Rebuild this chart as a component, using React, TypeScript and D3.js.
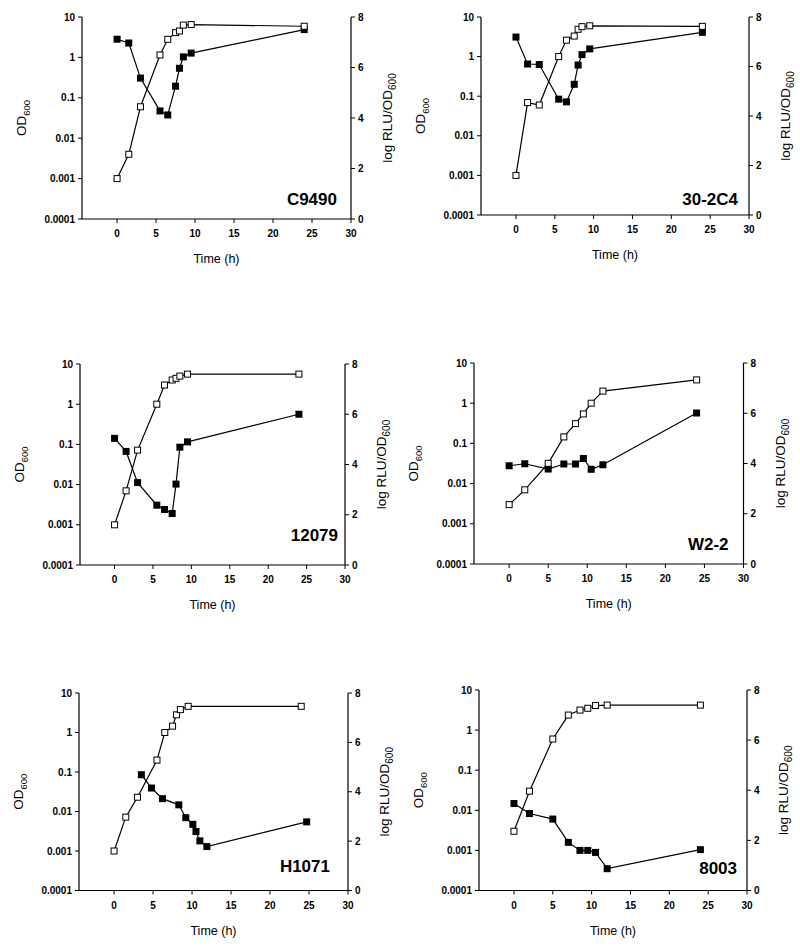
import React from "react";
import * as d3 from "d3";

// Axis ticks
const xTicks = [0, 5, 10, 15, 20, 25, 30];
const odTicks = [10, 1, 0.1, 0.01, 0.001, 0.0001];
const odTickLabels = ["10", "1", "0.1", "0.01", "0.001", "0.0001"];
const rluTicks = [0, 2, 4, 6, 8];

// C9490
const c9490Time = [0, 1.5, 3, 5.5, 6.5, 7.5, 8, 8.5, 9.5, 24];
const c9490OD = [0.001, 0.004, 0.06, 1.15, 2.8, 4.1, 4.5, 6.3, 6.5, 5.9];
const c9490RLU = [7.12, 6.97, 5.58, 4.28, 4.12, 5.26, 5.97, 6.42, 6.57, 7.5];

// 30-2C4
const s302c4Time = [0, 1.5, 3, 5.5, 6.5, 7.5, 8, 8.5, 9.5, 24];
const s302c4OD = [0.001, 0.069, 0.06, 1.0, 2.6, 3.3, 4.9, 5.7, 6.0, 5.8];
const s302c4RLU = [7.19, 6.1, 6.08, 4.68, 4.57, 5.28, 6.06, 6.48, 6.71, 7.38];

// 12079
const s12079Time = [0, 1.5, 3, 5.5, 6.5, 7.5, 8, 8.5, 9.5, 24];
const s12079OD = [0.001, 0.007, 0.072, 1.0, 3.0, 4.0, 4.4, 5.0, 5.6, 5.6];
const s12079RLU = [5.04, 4.52, 3.28, 2.38, 2.21, 2.05, 3.22, 4.69, 4.9, 6.0];

// W2-2
const w22Time = [0, 2, 5, 7, 8.5, 9.5, 10.5, 12, 24];
const w22OD = [0.003, 0.007, 0.032, 0.145, 0.31, 0.54, 1.0, 2.0, 3.8];
const w22RLU = [3.91, 3.99, 3.78, 3.98, 3.98, 4.2, 3.77, 3.95, 6.01];

// H1071
const h1071Time = [0, 1.5, 3, 5.5, 6.5, 7.5, 8, 8.5, 9.5, 24];
const h1071OD = [0.001, 0.0072, 0.023, 0.2, 1.0, 1.45, 2.8, 3.8, 4.6, 4.6];
const h1071RLUTime = [3.5, 4.8, 6.2, 8.3, 9.2, 10.1, 10.5, 11, 11.9, 24.7];
const h1071RLU = [4.69, 4.15, 3.72, 3.47, 2.95, 2.68, 2.39, 2.01, 1.78, 2.78];

// 8003
const s8003Time = [0, 2, 5, 7, 8.5, 9.5, 10.5, 12, 24];
const s8003OD = [0.003, 0.03, 0.6, 2.37, 3.16, 3.5, 4.1, 4.2, 4.2];
const s8003RLU = [3.47, 3.07, 2.85, 1.92, 1.6, 1.6, 1.52, 0.87, 1.63];

const strains = ["C9490", "30-2C4", "12079", "W2-2", "H1071", "8003"];

type Panel = {
  name: string;
  odT: number[];
  od: number[];
  rluT: number[];
  rlu: number[];
  left: number;
  right: number;
  top: number;
  bottom: number;
  lx: number;
  ly: number;
};

const layouts = [
  { left: 82, right: 351, top: 17, bottom: 219, lx: 14, ly: 14 },
  { left: 481, right: 749, top: 17, bottom: 215, lx: 11, ly: 10 },
  { left: 80, right: 345, top: 364, bottom: 565, lx: 7, ly: 24 },
  { left: 474, right: 743.5, top: 363, bottom: 564, lx: 15, ly: 14 },
  { left: 79, right: 348, top: 693, bottom: 890.5, lx: 18, ly: 19 },
  { left: 479, right: 747, top: 690, bottom: 890.5, lx: 10, ly: 17 },
];

const seriesData = [
  [c9490Time, c9490OD, c9490Time, c9490RLU],
  [s302c4Time, s302c4OD, s302c4Time, s302c4RLU],
  [s12079Time, s12079OD, s12079Time, s12079RLU],
  [w22Time, w22OD, w22Time, w22RLU],
  [h1071Time, h1071OD, h1071RLUTime, h1071RLU],
  [s8003Time, s8003OD, s8003Time, s8003RLU],
];

const panels: Panel[] = strains.map((name, i) => ({
  name,
  odT: seriesData[i][0],
  od: seriesData[i][1],
  rluT: seriesData[i][2],
  rlu: seriesData[i][3],
  ...layouts[i],
}));

const FONT = "'Liberation Sans', Arial, Helvetica, sans-serif";
const MF = 7;
const MO = 6;

function ChartPanel({ p }: { p: Panel }) {
  const x = d3.scaleLinear().domain([-4.5, 30]).range([p.left, p.right]);
  const yOD = d3.scaleLog().domain([0.0001, 10]).range([p.bottom, p.top]);
  const yR = d3.scaleLinear().domain([0, 8]).range([p.bottom, p.top]);

  const odPts: [number, number][] = p.odT.map((t, i) => [x(t), yOD(p.od[i])]);
  const rPts: [number, number][] = p.rluT.map((t, i) => [x(t), yR(p.rlu[i])]);
  const line = d3.line();

  const midY = (p.top + p.bottom) / 2;
  const midX = (p.left + p.right) / 2;

  return (
    <g fontFamily={FONT}>
      {/* axes */}
      <line x1={p.left} x2={p.left} y1={p.top} y2={p.bottom} stroke="#000" strokeWidth={1.2} />
      <line x1={p.right} x2={p.right} y1={p.top} y2={p.bottom} stroke="#000" strokeWidth={1.2} />
      <line x1={p.left} x2={p.right} y1={p.bottom} y2={p.bottom} stroke="#000" strokeWidth={1.2} />
      {odTicks.map((v, i) => (
        <g key={"l" + i}>
          <line x1={p.left - 4} x2={p.left} y1={yOD(v)} y2={yOD(v)} stroke="#000" strokeWidth={1} />
          <text x={p.left - 7} y={yOD(v)} dy="0.35em" textAnchor="end" fontSize={10} fontWeight="bold">
            {odTickLabels[i]}
          </text>
        </g>
      ))}
      {rluTicks.map((v) => (
        <g key={"r" + v}>
          <line x1={p.right} x2={p.right + 4} y1={yR(v)} y2={yR(v)} stroke="#000" strokeWidth={1} />
          <text x={p.right + 7} y={yR(v)} dy="0.35em" textAnchor="start" fontSize={10} fontWeight="bold">
            {v}
          </text>
        </g>
      ))}
      {xTicks.map((v) => (
        <g key={"x" + v}>
          <line x1={x(v)} x2={x(v)} y1={p.bottom} y2={p.bottom + 4} stroke="#000" strokeWidth={1} />
          <text x={x(v)} y={p.bottom + 18} textAnchor="middle" fontSize={10} fontWeight="bold">
            {v}
          </text>
        </g>
      ))}
      {/* titles */}
      <text x={midX} y={p.bottom + 44} textAnchor="middle" fontSize={12.5} fill="#000">
        Time (h)
      </text>
      <text transform={`translate(${p.left - 56},${midY}) rotate(-90)`} textAnchor="middle" fontSize={13.5}>
        OD<tspan fontSize={9.5} dy={4}>600</tspan>
      </text>
      <text transform={`translate(${p.right + 41},${midY}) rotate(-90)`} textAnchor="middle" fontSize={13.5}>
        log RLU/OD<tspan fontSize={10} dy={4}>600</tspan>
      </text>
      <text x={p.right - p.lx} y={p.bottom - p.ly} textAnchor="end" fontSize={17} fontWeight="bold">
        {p.name}
      </text>
      {/* RLU series (filled) */}
      <path d={line(rPts) || ""} fill="none" stroke="#000" strokeWidth={1.2} />
      {rPts.map(([px, py], i) => (
        <rect key={"f" + i} x={px - MF / 2} y={py - MF / 2} width={MF} height={MF} fill="#000" />
      ))}
      {/* OD series (open) */}
      <path d={line(odPts) || ""} fill="none" stroke="#000" strokeWidth={1.2} />
      {odPts.map(([px, py], i) => (
        <rect key={"o" + i} x={px - MO / 2} y={py - MO / 2} width={MO} height={MO} fill="#fff" stroke="#000" strokeWidth={1} />
      ))}
    </g>
  );
}

export default function App() {
  return (
    <svg
      width={800}
      height={946}
      style={{ position: "absolute", left: 0, top: 0, background: "#fff" }}
    >
      <rect x={0} y={0} width={800} height={946} fill="#fff" />
      {panels.map((p) => (
        <ChartPanel key={p.name} p={p} />
      ))}
    </svg>
  );
}
